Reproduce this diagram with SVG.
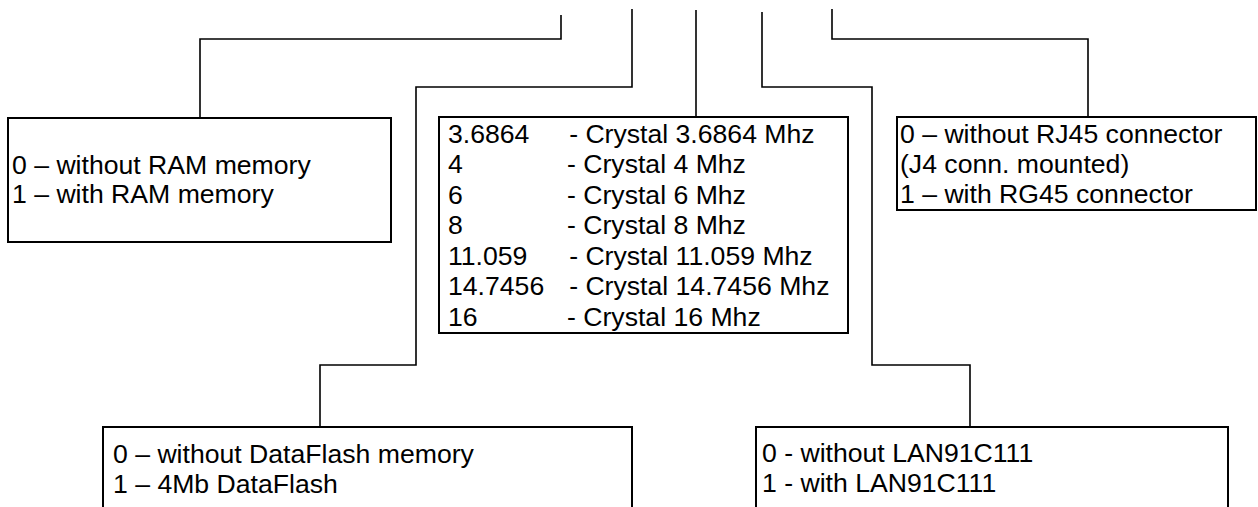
<svg xmlns="http://www.w3.org/2000/svg" width="1258" height="507" viewBox="0 0 1258 507">
<style>
.box{fill:#fff;stroke:#000;stroke-width:2}
.t{font-family:"Liberation Sans",Arial,sans-serif;font-size:25px;fill:#000}
.c{fill:none;stroke:#000;stroke-width:1.6}
</style>
<rect width="1258" height="507" fill="#fff"/>
<g id="connectors">
<polyline class="c" points="200,118 200,39 561,39 561,15"/>
<polyline class="c" points="320,427 320,365 416,365 416,87 632,87 632,9"/>
<polyline class="c" points="696,117 696,10"/>
<polyline class="c" points="970,427 970,365 872,365 872,87 762,87 762,12"/>
<polyline class="c" points="1088,117 1088,39 832,39 832,9"/>
</g>
<g id="ram">
<rect class="box" x="8" y="118" width="383" height="124"/>
<g transform="translate(12,0) scale(1.065,1)">
<text class="t" x="0" y="174">0 – without RAM memory</text>
<text class="t" x="0" y="203">1 – with RAM memory</text>
</g>
</g>
<g id="crystal">
<rect class="box" x="439" y="117" width="409" height="216"/>
<g transform="translate(448,0) scale(1.065,1)">
<text class="t" x="0" y="143">3.6864</text>
<text class="t" x="0" y="173.5">4</text>
<text class="t" x="0" y="204">6</text>
<text class="t" x="0" y="234.5">8</text>
<text class="t" x="0" y="265">11.059</text>
<text class="t" x="0" y="295.5">14.7456</text>
<text class="t" x="0" y="326">16</text>
</g>
<g transform="translate(567,0) scale(1.065,1)">
<text class="t" x="2" y="143">- Crystal 3.6864 Mhz</text>
<text class="t" x="0" y="173.5">- Crystal 4 Mhz</text>
<text class="t" x="0" y="204">- Crystal 6 Mhz</text>
<text class="t" x="0" y="234.5">- Crystal 8 Mhz</text>
<text class="t" x="2" y="265">- Crystal 11.059 Mhz</text>
<text class="t" x="2" y="295.5">- Crystal 14.7456 Mhz</text>
<text class="t" x="0" y="326">- Crystal 16 Mhz</text>
</g>
</g>
<g id="rj45">
<rect class="box" x="897" y="117" width="359" height="93"/>
<g transform="translate(900,0) scale(1.065,1)">
<text class="t" x="0" y="143">0 – without RJ45 connector</text>
<text class="t" x="0" y="173">(J4 conn. mounted)</text>
<text class="t" x="0" y="203">1 – with RG45 connector</text>
</g>
</g>
<g id="dataflash">
<rect class="box" x="103" y="427" width="529" height="110"/>
<g transform="translate(113,0) scale(1.065,1)">
<text class="t" x="0" y="463">0 – without DataFlash memory</text>
<text class="t" x="0" y="493">1 – 4Mb DataFlash</text>
</g>
</g>
<g id="lan">
<rect class="box" x="756" y="427" width="472" height="110"/>
<g transform="translate(762,0) scale(1.065,1)">
<text class="t" x="0" y="462">0 - without LAN91C111</text>
<text class="t" x="0" y="492">1 - with LAN91C111</text>
</g>
</g>
</svg>
